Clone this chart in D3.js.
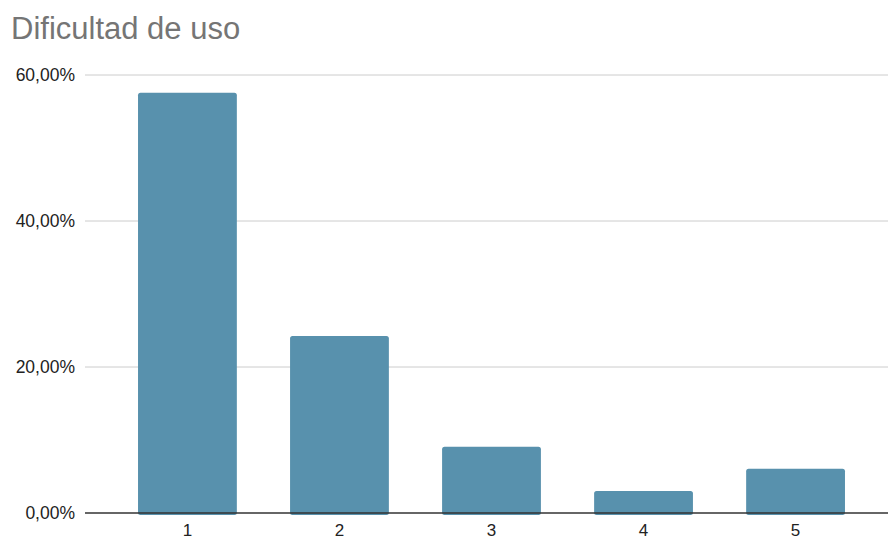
<!DOCTYPE html>
<html>
<head>
<meta charset="utf-8">
<style>
  body { margin: 0; background: #fff; }
  svg { display: block; font-family: "Liberation Sans", Arial, sans-serif; }
</style>
</head>
<body>
<div id="graphic"></div>
<script src="https://d3js.org/d3.v7.min.js"></script>
<script>
// values (share of answers per rating)
var categories = ["1", "2", "3", "4", "5"];
var values = [0.5758, 0.2424, 0.0909, 0.0303, 0.0606];
var yTicks = [0, 0.2, 0.4, 0.6];

var width = 888, height = 539;

var svg = d3.select("#graphic").append("svg")
    .attr("width", width)
    .attr("height", height);

// title
svg.append("text")
    .attr("x", 11)
    .attr("y", 39)
    .attr("fill", "#757575")
    .style("font-size", "31px")
    .text("Dificultad de uso");

var x = d3.scaleBand()
    .domain(categories)
    .range([91.5, 891.5])
    .paddingInner(0.35)
    .paddingOuter(0.306);

var y = d3.scaleLinear()
    .domain([0, 0.6])
    .range([513, 75]);

var fmt = function (d) {
    return d3.format(".2f")(d * 100).replace(".", ",") + "%";
};

// gridlines
svg.append("g")
    .selectAll("line")
    .data(yTicks.filter(function (d) { return d > 0; }))
    .enter()
    .append("line")
    .attr("x1", 85)
    .attr("x2", 888)
    .attr("y1", function (d) { return y(d); })
    .attr("y2", function (d) { return y(d); })
    .attr("stroke", "#cccccc")
    .attr("stroke-width", 1);

// y labels
svg.append("g")
    .selectAll("text")
    .data(yTicks)
    .enter()
    .append("text")
    .attr("x", 75)
    .attr("y", function (d) { return y(d); })
    .attr("dy", "0.35em")
    .attr("text-anchor", "end")
    .attr("fill", "#222")
    .style("font-size", "17.5px")
    .text(fmt);

// bars
svg.append("g")
    .selectAll("rect")
    .data(values)
    .enter()
    .append("rect")
    .attr("x", function (d, i) { return x(categories[i]); })
    .attr("width", x.bandwidth())
    .attr("y", function (d) { return y(d); })
    .attr("height", function (d) { return y(0) - y(d) + 2; })
    .attr("rx", 2.5)
    .attr("fill", "#5891ad");

// baseline
svg.append("line")
    .attr("x1", 85)
    .attr("x2", 888)
    .attr("y1", y(0))
    .attr("y2", y(0))
    .attr("stroke", "#333")
    .attr("stroke-width", 1.3);

// x labels
svg.append("g")
    .selectAll("text")
    .data(categories)
    .enter()
    .append("text")
    .attr("x", function (d) { return x(d) + x.bandwidth() / 2; })
    .attr("y", 536)
    .attr("text-anchor", "middle")
    .attr("fill", "#222")
    .style("font-size", "17px")
    .text(function (d) { return d; });
</script>
</body>
</html>
